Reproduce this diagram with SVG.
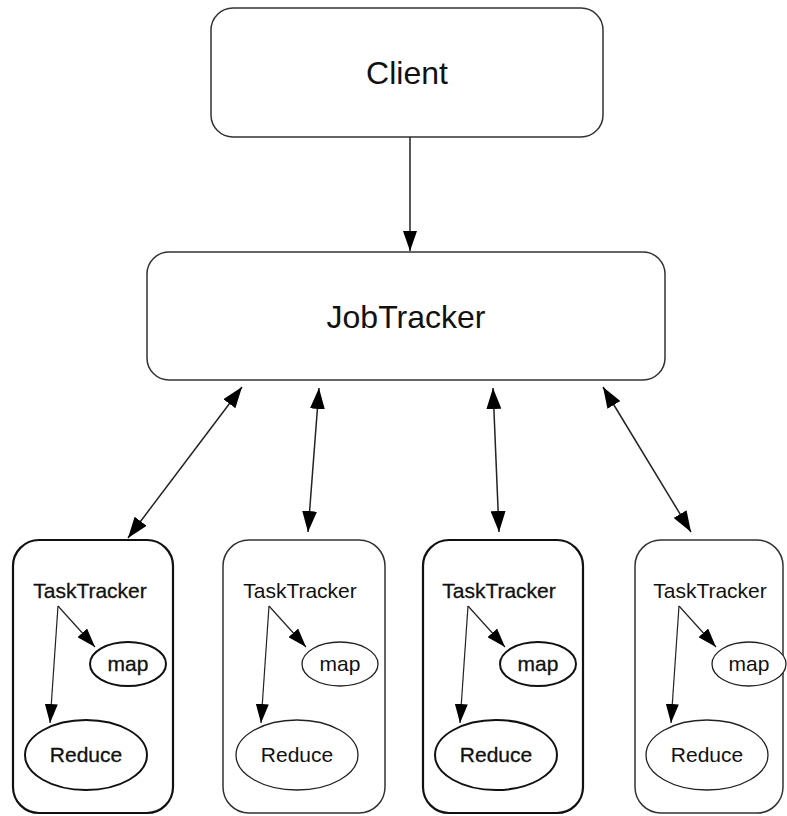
<svg xmlns="http://www.w3.org/2000/svg" width="787" height="816" viewBox="0 0 787 816">
<defs>
<style>
.box{fill:#fff;stroke:#333;stroke-width:1.5}
.boxb{fill:#fff;stroke:#111;stroke-width:2.2}
.ell{fill:#fff;stroke:#222;stroke-width:1.3}
.ellb{fill:#fff;stroke:#111;stroke-width:2}
.t{font-family:"Liberation Sans",Arial,sans-serif;fill:#111;text-anchor:middle}
.tb{stroke:#111;stroke-width:0.3}
.ln{stroke:#222;stroke-width:1.5;fill:none}
.lns{stroke:#222;stroke-width:1.2;fill:none}
</style>
<marker id="big" markerUnits="userSpaceOnUse" markerWidth="21" markerHeight="15" refX="21" refY="7.5" orient="auto-start-reverse"><path d="M0,0 L21,7.5 L0,15 z" fill="#000"/></marker>
<marker id="down" markerUnits="userSpaceOnUse" markerWidth="20" markerHeight="14" refX="20" refY="7" orient="auto"><path d="M0,0 L20,7 L0,14 z" fill="#000"/></marker>
<marker id="sm" markerUnits="userSpaceOnUse" markerWidth="19" markerHeight="13" refX="19" refY="6.5" orient="auto"><path d="M0,0 L19,6.5 L0,13 z" fill="#000"/></marker>
</defs>
<rect width="787" height="816" fill="#fff"/>

<g id="client">
<rect class="box" x="211" y="8" width="392" height="129" rx="22"/>
<text class="t" x="407" y="84" font-size="32">Client</text>
</g>

<g id="jobtracker">
<rect class="box" x="147" y="252" width="518" height="128" rx="22"/>
<text class="t" x="406" y="328" font-size="32">JobTracker</text>
</g>

<g id="tt1">
<rect class="boxb" x="13" y="540" width="160" height="273" rx="26"/>
<text class="t tb" x="90" y="598" font-size="21">TaskTracker</text>
</g>
<g id="map1">
<ellipse class="ellb" cx="128" cy="664" rx="38" ry="22"/>
<text class="t tb" x="128" y="671" font-size="21">map</text>
</g>
<g id="reduce1">
<ellipse class="ellb" cx="86" cy="755" rx="61" ry="35"/>
<text class="t tb" x="86" y="762" font-size="21">Reduce</text>
</g>

<g id="tt2">
<rect class="box" x="223" y="540" width="162" height="273" rx="26"/>
<text class="t" x="300" y="598" font-size="21">TaskTracker</text>
</g>
<g id="map2">
<ellipse class="ell" cx="340" cy="664" rx="38" ry="22"/>
<text class="t" x="340" y="671" font-size="21">map</text>
</g>
<g id="reduce2">
<ellipse class="ell" cx="297" cy="755" rx="61" ry="35"/>
<text class="t" x="297" y="762" font-size="21">Reduce</text>
</g>

<g id="tt3">
<rect class="boxb" x="423" y="540" width="160" height="273" rx="26"/>
<text class="t tb" x="499" y="598" font-size="21">TaskTracker</text>
</g>
<g id="map3">
<ellipse class="ellb" cx="538" cy="664" rx="38" ry="22"/>
<text class="t tb" x="538" y="671" font-size="21">map</text>
</g>
<g id="reduce3">
<ellipse class="ellb" cx="496" cy="755" rx="61" ry="35"/>
<text class="t tb" x="496" y="762" font-size="21">Reduce</text>
</g>

<g id="tt4">
<rect class="box" x="635" y="540" width="148" height="273" rx="26"/>
<text class="t" x="710" y="598" font-size="21">TaskTracker</text>
</g>
<g id="map4">
<ellipse class="ell" cx="749" cy="664" rx="37" ry="22"/>
<text class="t" x="749" y="671" font-size="21">map</text>
</g>
<g id="reduce4">
<ellipse class="ell" cx="707" cy="755" rx="61" ry="35"/>
<text class="t" x="707" y="762" font-size="21">Reduce</text>
</g>

<g id="connectors">
<line class="ln" x1="410" y1="137" x2="410" y2="251" marker-end="url(#down)"/>
<line class="ln" x1="242" y1="387" x2="128" y2="538" marker-start="url(#big)" marker-end="url(#big)"/>
<line class="ln" x1="319" y1="388" x2="308" y2="532" marker-start="url(#big)" marker-end="url(#big)"/>
<line class="ln" x1="493" y1="388" x2="499" y2="532" marker-start="url(#big)" marker-end="url(#big)"/>
<line class="ln" x1="603" y1="387" x2="691" y2="532" marker-start="url(#big)" marker-end="url(#big)"/>
<line class="lns" x1="58" y1="606" x2="95" y2="647" marker-end="url(#sm)"/>
<line class="lns" x1="58" y1="606" x2="50" y2="723" marker-end="url(#sm)"/>
<line class="lns" x1="269" y1="606" x2="306" y2="647" marker-end="url(#sm)"/>
<line class="lns" x1="269" y1="606" x2="261" y2="723" marker-end="url(#sm)"/>
<line class="lns" x1="468" y1="606" x2="505" y2="647" marker-end="url(#sm)"/>
<line class="lns" x1="468" y1="606" x2="460" y2="723" marker-end="url(#sm)"/>
<line class="lns" x1="679" y1="606" x2="716" y2="647" marker-end="url(#sm)"/>
<line class="lns" x1="679" y1="606" x2="671" y2="723" marker-end="url(#sm)"/>
</g>
</svg>
